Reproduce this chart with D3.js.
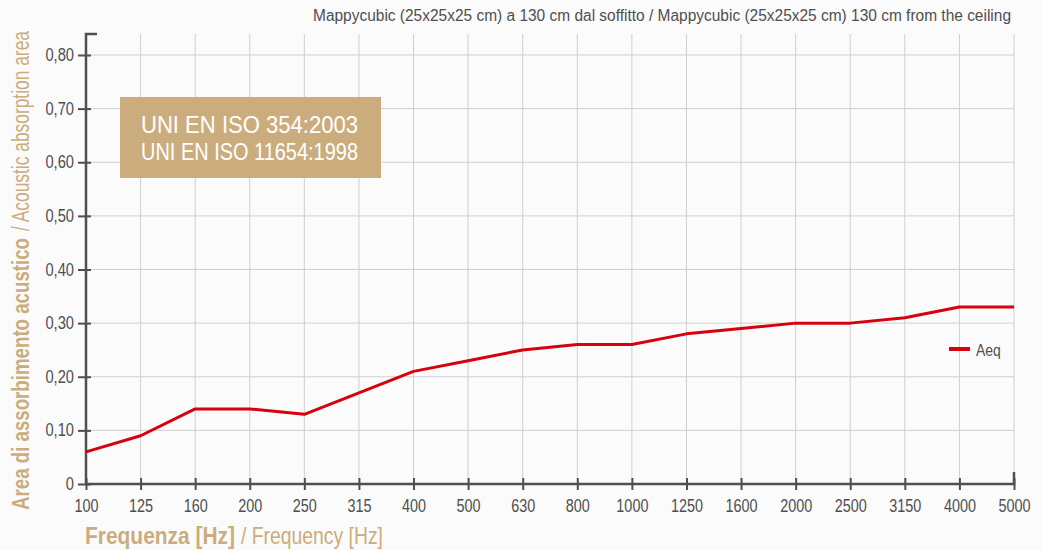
<!DOCTYPE html>
<html>
<head>
<meta charset="utf-8">
<script src="https://cdn.jsdelivr.net/npm/d3@7"></script>
<style>
  body { margin: 0; background: #fbfbfb; }
  svg text { font-family: "Liberation Sans", Arial, sans-serif; }
</style>
</head>
<body>
<div id="chart"></div>
<script>
// data
const frequencies = ["100", "125", "160", "200", "250", "315", "400", "500", "630",
                     "800", "1000", "1250", "1600", "2000", "2500", "3150", "4000", "5000"];
const aeq = [0.06, 0.09, 0.14, 0.14, 0.13, 0.17, 0.21, 0.23, 0.25,
             0.26, 0.26, 0.28, 0.29, 0.30, 0.30, 0.31, 0.33, 0.33];
const yTicks = [0, 0.1, 0.2, 0.3, 0.4, 0.5, 0.6, 0.7, 0.8];
const normLines = ["UNI EN ISO 354:2003", "UNI EN ISO 11654:1998"];

const WIDTH = 1042;
const HEIGHT = 550;
const MARGINS = {left: 86, right: 28, top: 34, bottom: 66};
const TAN = "#cbad7d";
const GREY = "#4f4f4f";
const RED = "#d7000f";

// squeeze text horizontally, the original uses a condensed face
function condense(sel, factor) {
    sel.each(function() {
        const w = this.getComputedTextLength();
        d3.select(this)
            .attr("textLength", w * factor)
            .attr("lengthAdjust", "spacingAndGlyphs");
    });
}

const svg = d3.select("#chart")
    .append("svg")
        .attr("width", WIDTH)
        .attr("height", HEIGHT);

svg.append("rect")
    .attr("width", WIDTH)
    .attr("height", HEIGHT)
    .attr("fill", "#fbfbfb");

const X_SCALE = d3.scalePoint()
    .domain(frequencies)
    .range([MARGINS.left, WIDTH - MARGINS.right]);

const Y_SCALE = d3.scaleLinear()
    .domain([0, 0.8])
    .range([HEIGHT - MARGINS.bottom, 55]);

const bottom = HEIGHT - MARGINS.bottom;
const right = WIDTH - MARGINS.right;

// grid
svg.append("g").selectAll("line")
    .data(frequencies.slice(1))
    .enter()
    .append("line")
        .attr("x1", d => X_SCALE(d))
        .attr("x2", d => X_SCALE(d))
        .attr("y1", MARGINS.top)
        .attr("y2", bottom)
        .attr("stroke", "#cfcfcf")
        .attr("stroke-width", 1);

svg.append("g").selectAll("line")
    .data(yTicks.slice(1))
    .enter()
    .append("line")
        .attr("x1", MARGINS.left)
        .attr("x2", right)
        .attr("y1", d => Y_SCALE(d))
        .attr("y2", d => Y_SCALE(d))
        .attr("stroke", "#cfcfcf")
        .attr("stroke-width", 1);

// axes
const yAxis = svg.append("g")
    .attr("transform", "translate(" + MARGINS.left + ",0)")
    .call(d3.axisLeft(Y_SCALE)
        .tickValues(yTicks)
        .tickSizeInner(8)
        .tickSizeOuter(0)
        .tickPadding(4)
        .tickFormat(d => d === 0 ? "0" : d3.format(".2f")(d).replace(".", ",")));
yAxis.select(".domain").remove();
yAxis.selectAll(".tick line").attr("x1", 5).attr("stroke", GREY).attr("stroke-width", 2);
yAxis.selectAll("text").attr("font-size", 17.5).attr("fill", GREY).call(condense, 0.84);

const xAxis = svg.append("g")
    .attr("transform", "translate(0," + bottom + ")")
    .call(d3.axisBottom(X_SCALE)
        .tickSizeInner(6)
        .tickSizeOuter(0)
        .tickPadding(9));
xAxis.select(".domain").remove();
xAxis.selectAll(".tick line").attr("y1", -6).attr("stroke", GREY).attr("stroke-width", 2);
xAxis.selectAll("text").attr("font-size", 18).attr("fill", GREY).call(condense, 0.8);

// axis frame lines
svg.append("path")
    .attr("d", "M" + (MARGINS.left + 11) + "," + MARGINS.top + "H" + MARGINS.left +
               "V" + bottom + "H" + right + "V" + (bottom - 12))
    .attr("fill", "none")
    .attr("stroke", GREY)
    .attr("stroke-width", 2.5);

// series
const line = d3.line()
    .x((d, i) => X_SCALE(frequencies[i]))
    .y(d => Y_SCALE(d));

svg.append("path")
    .datum(aeq)
    .attr("d", line)
    .attr("fill", "none")
    .attr("stroke", RED)
    .attr("stroke-width", 3)
    .attr("stroke-linejoin", "round");

// legend
svg.append("line")
    .attr("x1", 949).attr("x2", 970)
    .attr("y1", 349).attr("y2", 349)
    .attr("stroke", RED)
    .attr("stroke-width", 4);
svg.append("text")
    .attr("x", 976).attr("y", 356)
    .attr("font-size", 17)
    .attr("fill", GREY)
    .text("Aeq")
    .call(condense, 0.82);

// norm box
svg.append("rect")
    .attr("x", 120).attr("y", 97)
    .attr("width", 261).attr("height", 81)
    .attr("fill", TAN);
svg.append("g").selectAll("text")
    .data(normLines)
    .enter()
    .append("text")
        .attr("x", 141)
        .attr("y", (d, i) => 133 + i * 27)
        .attr("font-size", 24)
        .attr("fill", "#fff")
        .attr("textLength", 217)
        .attr("lengthAdjust", "spacingAndGlyphs")
        .text(d => d);

// title
svg.append("text")
    .attr("x", 313).attr("y", 21)
    .attr("font-size", 16)
    .attr("fill", GREY)
    .attr("textLength", 698)
    .attr("lengthAdjust", "spacingAndGlyphs")
    .text("Mappycubic (25x25x25 cm) a 130 cm dal soffitto / Mappycubic (25x25x25 cm) 130 cm from the ceiling");

// axis titles
const xTitle = svg.append("text")
    .attr("x", 85).attr("y", 544)
    .attr("font-size", 24)
    .attr("fill", TAN);
xTitle.append("tspan").attr("font-weight", "bold")
    .attr("textLength", 150).attr("lengthAdjust", "spacingAndGlyphs")
    .text("Frequenza [Hz]");
xTitle.append("tspan").attr("x", 241)
    .attr("textLength", 142).attr("lengthAdjust", "spacingAndGlyphs")
    .text("/ Frequency [Hz]");

const yTitle = svg.append("text")
    .attr("transform", "translate(29,510) rotate(-90)")
    .attr("font-size", 23)
    .attr("fill", TAN);
yTitle.append("tspan").attr("font-weight", "bold")
    .attr("textLength", 272).attr("lengthAdjust", "spacingAndGlyphs")
    .text("Area di assorbimento acustico");
yTitle.append("tspan").attr("x", 279)
    .attr("textLength", 200).attr("lengthAdjust", "spacingAndGlyphs")
    .text("/ Acoustic absorption area");
</script>
</body>
</html>
